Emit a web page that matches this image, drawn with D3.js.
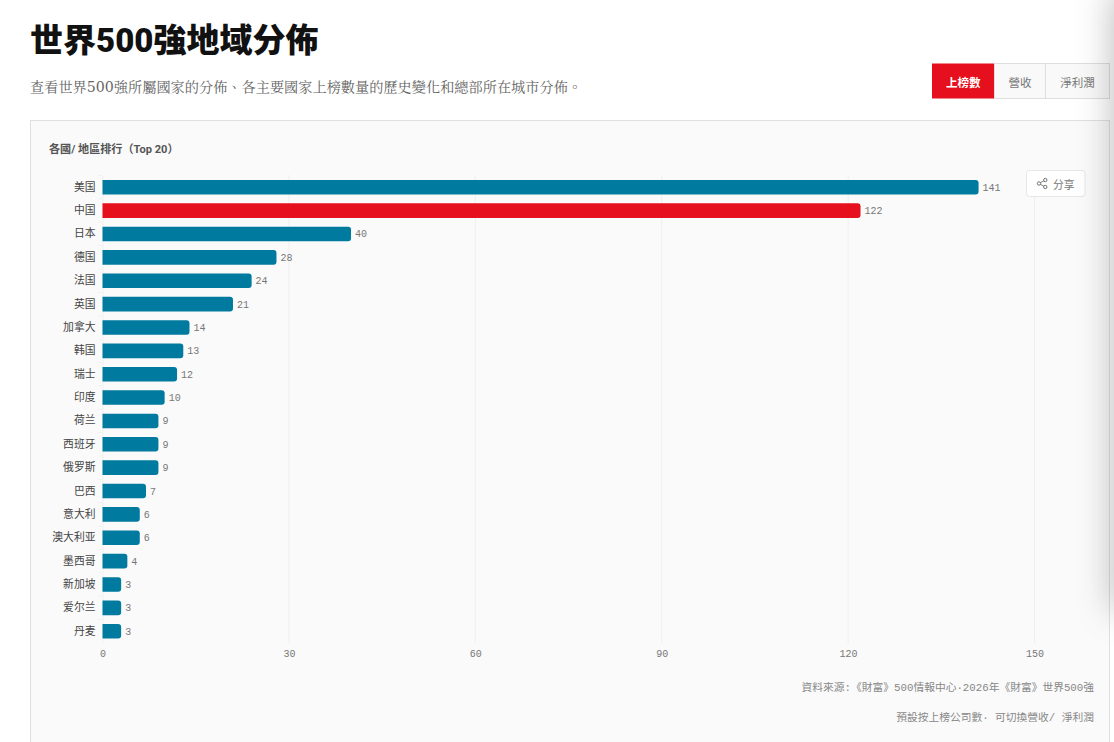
<!DOCTYPE html>
<html>
<head>
<meta charset="utf-8">
<script src="https://cdnjs.cloudflare.com/ajax/libs/d3/7.8.5/d3.min.js"></script>
<style>
  html, body { margin: 0; padding: 0; background: #fff; overflow: hidden; }
  svg { display: block; }
  .mono { font-family: "Liberation Mono", "Noto Sans CJK SC", monospace; }
  .cjk { font-family: Roboto, "Noto Sans CJK SC", sans-serif; }
</style>
</head>
<body>
<svg id="chart" width="1114" height="742"></svg>
<script>
const countries = ['美国', '中国', '日本', '德国', '法国', '英国', '加拿大', '韩国', '瑞士', '印度', '荷兰', '西班牙', '俄罗斯', '巴西', '意大利', '澳大利亚', '墨西哥', '新加坡', '爱尔兰', '丹麦'];
const counts = [141, 122, 40, 28, 24, 21, 14, 13, 12, 10, 9, 9, 9, 7, 6, 6, 4, 3, 3, 3];
const xTicks = [0, 30, 60, 90, 120, 150];
const tabs = ['上榜數', '營收', '淨利潤'];

const svg = d3.select('#chart');
const defs = svg.append('defs');

defs.append('filter').attr('id', 'blur')
  .attr('filterUnits', 'userSpaceOnUse')
  .attr('x', 1000).attr('y', -120).attr('width', 300).attr('height', 860)
  .append('feGaussianBlur').attr('stdDeviation', 18);

// header
svg.append('text').attr('class', 'cjk')
  .attr('x', 30).attr('y', 52)
  .attr('font-size', 33).attr('font-weight', 900).attr('fill', '#111')
  .text('世界500強地域分佈');

svg.append('text')
  .attr('x', 30).attr('y', 92)
  .attr('font-family', '"DejaVu Serif", "Noto Serif CJK TC", "Noto Sans CJK TC", serif')
  .attr('font-size', 14.2).attr('fill', '#666')
  .text('查看世界500強所屬國家的分佈、各主要國家上榜數量的歷史變化和總部所在城市分佈。');

// tabs
const tabX = d3.scaleOrdinal().domain(tabs).range([932, 994.5, 1045.5]);
const tabW = d3.scaleOrdinal().domain(tabs).range([62.5, 51, 64]);
const tab = svg.append('g').selectAll('g').data(tabs).join('g')
  .attr('transform', d => `translate(${tabX(d)},63.5)`);
tab.append('rect')
  .attr('width', d => tabW(d)).attr('height', 35)
  .attr('fill', (d, i) => i === 0 ? '#e60f1d' : '#f9f9f9')
  .attr('stroke', (d, i) => i === 0 ? 'none' : '#dedede');
tab.append('text').attr('class', 'cjk')
  .attr('x', d => tabW(d) / 2).attr('y', 23)
  .attr('text-anchor', 'middle').attr('font-size', 11.5)
  .attr('font-weight', (d, i) => i === 0 ? 700 : 400)
  .attr('fill', (d, i) => i === 0 ? '#fff' : '#777')
  .text(d => d);

// panel
svg.append('rect')
  .attr('x', 30.5).attr('y', 120.5).attr('width', 1079).attr('height', 640)
  .attr('fill', '#fafafa').attr('stroke', '#e0e0e0');

svg.append('text').attr('class', 'cjk')
  .attr('x', 49).attr('y', 153)
  .attr('font-size', 11.1).attr('font-weight', 700).attr('fill', '#555')
  .text('各國/ 地區排行（Top 20）');

// scales
const x = d3.scaleLinear().domain([0, 150]).range([102.5, 1034.5]);
const y = d3.scaleBand().domain(countries).range([175.5, 643]).paddingInner(0.375).paddingOuter(0.19);

// grid
svg.append('g').selectAll('line').data(xTicks.slice(1)).join('line')
  .attr('x1', d => x(d)).attr('x2', d => x(d))
  .attr('y1', 175).attr('y2', 643)
  .attr('stroke', '#efefef');

// category axis
const yAxis = svg.append('g').attr('transform', 'translate(102.5,0)')
  .call(d3.axisLeft(y).tickSize(0).tickPadding(7));
yAxis.select('.domain').attr('stroke', '#f0f0f0');
yAxis.selectAll('text').attr('class', 'cjk').attr('font-size', 10.8).attr('fill', '#444')
  .attr('font-family', 'Roboto, "Noto Sans CJK SC", sans-serif');
// ticks sit between the bands
yAxis.append('g').selectAll('line').data(countries).join('line')
  .attr('x1', -4).attr('x2', 0)
  .attr('y1', d => y(d) - y.step() * y.paddingInner() / 2)
  .attr('y2', d => y(d) - y.step() * y.paddingInner() / 2)
  .attr('stroke', '#f0f0f0');

// value axis
const xAxis = svg.append('g').attr('transform', 'translate(0,643)')
  .call(d3.axisBottom(x).tickValues(xTicks).tickSize(0).tickPadding(7));
xAxis.select('.domain').remove();
xAxis.selectAll('text').attr('font-family', '"Liberation Mono", monospace').attr('font-size', 10).attr('fill', '#777');

// bars
svg.append('g').selectAll('path').data(countries).join('path')
  .attr('d', (d, i) => {
    const x0 = x(0), x1 = x(counts[i]), y0 = y(d), h = y.bandwidth(), r = 3;
    return `M${x0},${y0}H${x1 - r}Q${x1},${y0} ${x1},${y0 + r}V${y0 + h - r}Q${x1},${y0 + h} ${x1 - r},${y0 + h}H${x0}Z`;
  })
  .attr('fill', d => d === '中国' ? '#e60f1d' : '#007a9e');

svg.append('g').selectAll('text').data(countries).join('text')
  .attr('class', 'mono')
  .attr('x', (d, i) => x(counts[i]) + 4)
  .attr('y', d => y(d) + y.bandwidth() / 2 + 3.5)
  .attr('font-size', 10).attr('fill', '#777')
  .text((d, i) => counts[i]);

// share button
const share = svg.append('g').attr('transform', 'translate(1026,170)');
share.append('rect').attr('x', 0.5).attr('y', 0.5).attr('width', 58.5).attr('height', 26).attr('rx', 3)
  .attr('fill', '#fff').attr('stroke', '#e6e6e6');
const nodes = [[19.3, 10], [13, 13.5], [19.3, 17]];
share.append('path').attr('d', d3.line()(nodes)).attr('fill', 'none').attr('stroke', '#666').attr('stroke-width', 0.8);
share.selectAll('circle').data(nodes).join('circle')
  .attr('cx', d => d[0]).attr('cy', d => d[1]).attr('r', 1.7)
  .attr('fill', '#fff').attr('stroke', '#666').attr('stroke-width', 0.9);
share.append('text').attr('class', 'cjk').attr('x', 27).attr('y', 18.5)
  .attr('font-size', 10.8).attr('fill', '#777').text('分享');

// footnotes
svg.append('g').selectAll('text')
  .data(['資料來源:《財富》500情報中心·2026年《財富》世界500強', '預設按上榜公司數· 可切換營收/ 淨利潤'])
  .join('text').attr('class', 'mono')
  .attr('x', 1094).attr('y', (d, i) => 691 + i * 30)
  .attr('text-anchor', 'end').attr('font-size', 10.75).attr('fill', '#888')
  .text(d => d);

// shadow of a drawer just off the right edge
svg.append('rect')
  .attr('x', 1114).attr('y', -10).attr('width', 80).attr('height', 620)
  .attr('fill', '#000').attr('fill-opacity', 0.28).attr('filter', 'url(#blur)');
</script>
</body>
</html>
